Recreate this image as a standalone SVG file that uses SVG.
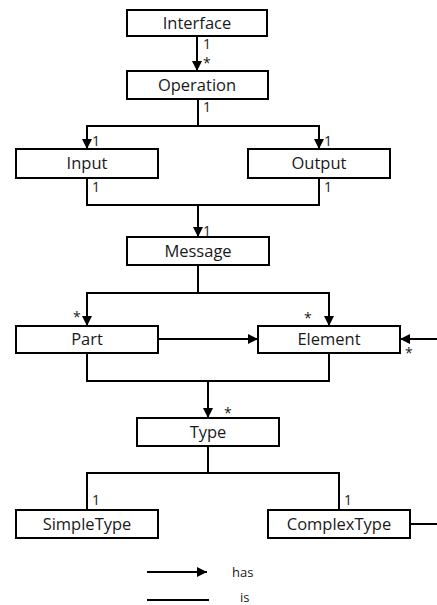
<svg xmlns="http://www.w3.org/2000/svg" width="437" height="605" viewBox="0 0 437 605">
  <style>
    .box rect { fill: #fff; stroke: #000; stroke-width: 2; }
    .box text { font-family: "Open Sans", "DejaVu Sans", sans-serif; font-size: 16.5px; fill: #1a1a1a; text-anchor: middle; }
    .wire { fill: none; stroke: #000; stroke-width: 2; }
    .lbl { font-family: "Open Sans", "DejaVu Sans", sans-serif; font-size: 14px; fill: #1a1a1a; }
    .leg { font-family: "Open Sans", "DejaVu Sans", sans-serif; font-size: 13px; fill: #1a1a1a; }
  </style>
  <defs>
    <marker id="arrow" viewBox="0 0 10 10" refX="10" refY="5" markerWidth="10" markerHeight="10" markerUnits="userSpaceOnUse" orient="auto">
      <path d="M0,0 L10,5 L0,10 z" fill="#000"/>
    </marker>
  </defs>
  <rect width="437" height="605" fill="#fff"/>

  <g id="connectors">
    <!-- Interface to Operation -->
    <path class="wire" d="M197,36 V71" marker-end="url(#arrow)"/>
    <!-- Operation to Input / Output -->
    <path class="wire" d="M198,99 V126 H87 V149" marker-end="url(#arrow)"/>
    <path class="wire" d="M198,126 H319 V149" marker-end="url(#arrow)"/>
    <!-- Input / Output to Message -->
    <path class="wire" d="M87,178 V205 H319 V178"/>
    <path class="wire" d="M198,205 V237" marker-end="url(#arrow)"/>
    <!-- Message to Part / Element -->
    <path class="wire" d="M198,265 V293 H87 V326" marker-end="url(#arrow)"/>
    <path class="wire" d="M198,293 H329 V326" marker-end="url(#arrow)"/>
    <!-- Part to Element -->
    <path class="wire" d="M158,339 H258" marker-end="url(#arrow)"/>
    <!-- incoming from right to Element -->
    <path class="wire" d="M437,339 H400" marker-end="url(#arrow)"/>
    <!-- Part / Element to Type -->
    <path class="wire" d="M87,353 V381 H329 V353"/>
    <path class="wire" d="M208,381 V418" marker-end="url(#arrow)"/>
    <!-- Type to SimpleType / ComplexType -->
    <path class="wire" d="M87,510 V473 H339 V510"/>
    <path class="wire" d="M208,446 V473"/>
    <!-- ComplexType outgoing to right -->
    <path class="wire" d="M410,524 H437"/>
  </g>

  <g id="multiplicities">
    <text class="lbl" x="203" y="49">1</text>
    <text class="lbl" x="203" y="68">*</text>
    <text class="lbl" x="203" y="112">1</text>
    <text class="lbl" x="92" y="146">1</text>
    <text class="lbl" x="324" y="146">1</text>
    <text class="lbl" x="92" y="192">1</text>
    <text class="lbl" x="324" y="192">1</text>
    <text class="lbl" x="203" y="236">1</text>
    <text class="lbl" x="73" y="322">*</text>
    <text class="lbl" x="304" y="323">*</text>
    <text class="lbl" x="405" y="358">*</text>
    <text class="lbl" x="224" y="418">*</text>
    <text class="lbl" x="92" y="505">1</text>
    <text class="lbl" x="344" y="505">1</text>
  </g>

  <g id="Interface" class="box"><rect x="127" y="10" width="140" height="26"/><text x="197" y="29">Interface</text></g>
  <g id="Operation" class="box"><rect x="127" y="71" width="141" height="28"/><text x="197" y="91">Operation</text></g>
  <g id="Input" class="box"><rect x="16" y="149" width="142" height="29"/><text x="87" y="169">Input</text></g>
  <g id="Output" class="box"><rect x="248" y="149" width="142" height="29"/><text x="319" y="169">Output</text></g>
  <g id="Message" class="box"><rect x="127" y="237" width="142" height="28"/><text x="198" y="257">Message</text></g>
  <g id="Part" class="box"><rect x="16" y="326" width="142" height="27"/><text x="87" y="345">Part</text></g>
  <g id="Element" class="box"><rect x="258" y="326" width="142" height="27"/><text x="329" y="345">Element</text></g>
  <g id="Type" class="box"><rect x="137" y="418" width="142" height="28"/><text x="208" y="438">Type</text></g>
  <g id="SimpleType" class="box"><rect x="16" y="510" width="142" height="28"/><text x="87" y="530">SimpleType</text></g>
  <g id="ComplexType" class="box"><rect x="268" y="510" width="142" height="28"/><text x="339" y="530">ComplexType</text></g>

  <g id="legend">
    <path class="wire" d="M147,572 H207" marker-end="url(#arrow)"/>
    <text class="leg" x="232" y="577">has</text>
    <path class="wire" d="M147,600 H209"/>
    <text class="leg" x="240" y="602">is</text>
  </g>
</svg>
